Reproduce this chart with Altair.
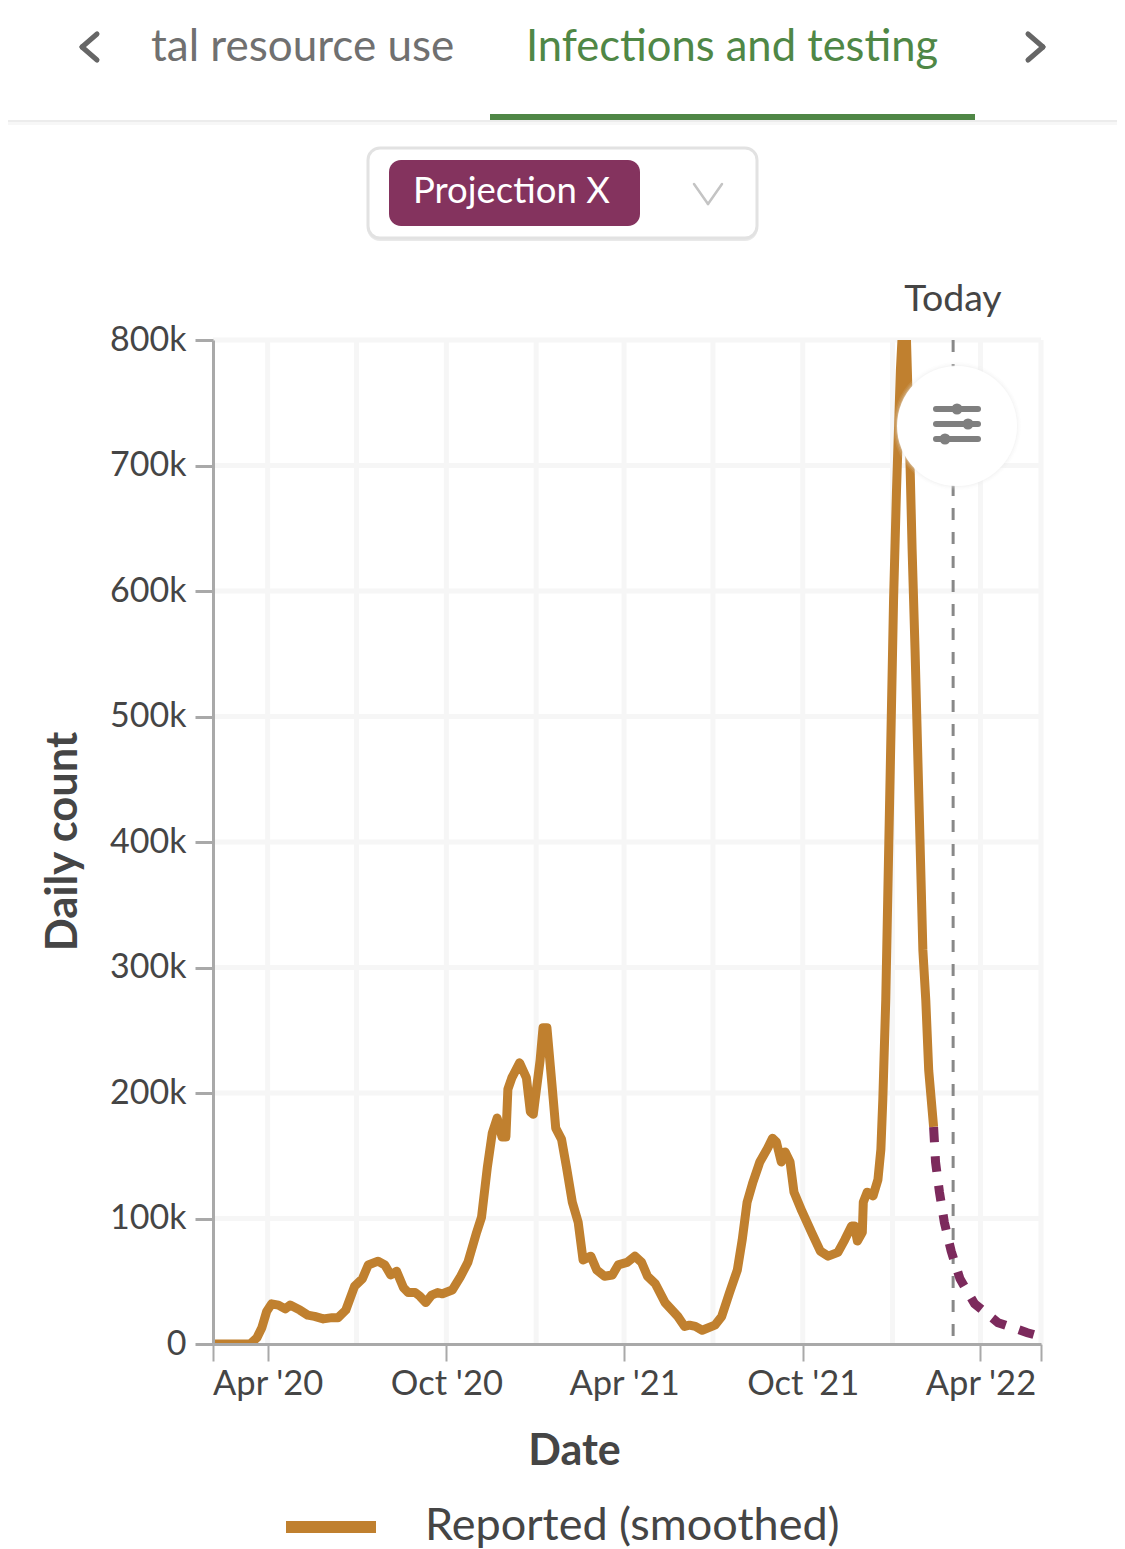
import altair as alt
import pandas as pd

START = "2020-02-05"
END = "2022-06-02"
TODAY = "2022-03-04"
FONT = "Lato"

reported_days = [0,38,45,50,55,60,67,74,79,89,97,104,113,122,128,136,145,153,159,169,176,182,188,195,200,207,212,218,224,230,235,245,253,261,270,275,281,286,291,296,300,302,306,314,321,325,328,335,338,342,347,351,357,362,368,374,379,387,393,401,409,415,424,432,439,445,453,463,476,483,488,494,501,514,521,529,537,542,547,553,560,568,573,577,582,586,591,595,603,613,622,630,640,647,654,657,660,665,666,670,676,681,684,686,689,691,695,697,700,702,704,706,710,712,714,716,719,723,727,730,733,738]
reported_k = [0,0,5,13,26,32,31,28,31,27,23,22,20,21,21,27,46,52,63,66,63,55,58,45,41,41,38,33,39,41,40,43,53,65,89,101,141,168,180,165,165,203,212,224,212,185,183,226,252,252,208,172,163,141,113,97,67,70,59,54,55,63,65,70,65,54,48,33,22,14,15,14,11,15,22,41,59,83,113,129,145,156,164,161,145,153,145,121,106,89,74,70,73,83,94,94,82,89,113,121,118,131,155,195,274,354,513,593,680,728,776,806,806,752,697,633,553,433,314,274,218,173]
projection_days = [738,740,744,749,756,765,780,804,834,843]
projection_k = [173,145,121,97,74,52,32,17,9,7]
y_ticks_k = [0,100,200,300,400,500,600,700,800]
x_grid = ["2020-04-01","2020-07-01","2020-10-01","2021-01-01","2021-04-01","2021-07-01","2021-10-01","2022-01-01","2022-04-01","2022-06-02"]
x_ticks = [(2020,2,5),(2020,4,1),(2020,10,1),(2021,4,1),(2021,10,1),(2022,4,1),(2022,6,2)]

ORANGE = "#c0802f"
PURPLE = "#7c2a5c"
CHIP = "#84335e"
GREEN = "#4f8746"
AXIS = "#a9a9a9"
TEXT = "#454545"

def iso(s):
    return s + "T00:00:00Z"

def series(days, ks):
    d = pd.to_datetime(START) + pd.to_timedelta(days, unit="D")
    return pd.DataFrame({"date": d.strftime("%Y-%m-%dT00:00:00Z"), "value": [k * 1000 for k in ks]})

x_scale = alt.Scale(type="utc", domain=[iso(START), iso(END)])
y_scale = alt.Scale(domain=[0, 800000], nice=False)

x_axis = alt.Axis(
    values=[alt.DateTime(year=y, month=m, date=d, utc=True) for y, m, d in x_ticks],
    labelExpr="utcmonth(datum.value)==3||utcmonth(datum.value)==9 ? utcFormat(datum.value,\"%b '%y\") : ''",
    title="Date", titleFont=FONT, titleFontSize=43, titleFontWeight="bold", titleColor=TEXT,
    titleX=361, titleY=107, titleBaseline="middle", titleAlign="center",
    labelFont=FONT, labelFontSize=34.5, labelColor=TEXT, labelPadding=6, labelOverlap=False,
    labelBound=False, labelFlush=False,
    tickSize=17, tickWidth=2, tickColor=AXIS, domainColor=AXIS, domainWidth=3, grid=False, zindex=1,
)
y_axis = alt.Axis(
    values=[k * 1000 for k in y_ticks_k],
    labelExpr="datum.value==0 ? '0' : (datum.value/1000)+'k'",
    title="Daily count", titleFont=FONT, titleFontSize=43.5, titleFontWeight="bold", titleColor=TEXT,
    titleX=-150, titleY=501, titleBaseline="middle", titleAlign="center", titleAngle=270,
    labelFont=FONT, labelFontSize=34, labelColor=TEXT, labelPadding=9, labelOverlap=False,
    labelBound=False, labelFlush=False,
    tickSize=18, tickWidth=3, tickColor=AXIS, domainColor=AXIS, domainWidth=3, grid=False, zindex=1,
)

one = pd.DataFrame({"a": [0]})
OX, OY = 213, 340   # page position of the plot's corner

def px(v): return alt.value(v - OX)
def py(v): return alt.value(v - OY)

def label(text, x, y, size, color, align="left", weight="normal"):
    return alt.Chart(one).mark_text(text=text, font=FONT, fontSize=size, color=color, align=align,
                                    baseline="middle", fontWeight=weight).encode(x=px(x), y=py(y))

def box(x1, x2, y1, y2, **kw):
    return alt.Chart(one).mark_rect(**kw).encode(x=px(x1), x2=px(x2), y=py(y1), y2=py(y2))

def stroke(x1, y1, x2, y2, color, width):
    return alt.Chart(one).mark_rule(color=color, strokeWidth=width, strokeCap="round").encode(
        x=px(x1), x2=px(x2), y=py(y1), y2=py(y2))

def dot(x, y, d, color, opacity=1):
    return alt.Chart(one).mark_circle(size=d * d, color=color, opacity=opacity).encode(x=px(x), y=py(y))

X = alt.X("date:T", scale=x_scale, axis=x_axis, title="Date")
Y = alt.Y("value:Q", scale=y_scale, axis=y_axis, title="Daily count")

grid_x = alt.Chart(pd.DataFrame({"date": [iso(g) for g in x_grid]})).mark_rule(
    color="#f6f6f6", strokeWidth=5).encode(x=X)
grid_y = alt.Chart(pd.DataFrame({"value": [k * 1000 for k in y_ticks_k[1:]]})).mark_rule(
    color="#f6f6f6", strokeWidth=5).encode(y=Y)
today = alt.Chart(pd.DataFrame({"date": [iso(TODAY)]})).mark_rule(
    color="#888888", strokeWidth=3, strokeDash=[12, 12]).encode(x=X)
reported = alt.Chart(series(reported_days, reported_k)).mark_line(
    color=ORANGE, strokeWidth=9, clip=True, strokeJoin="round").encode(x=X, y=Y)
projected = alt.Chart(series(projection_days, projection_k)).mark_line(
    color=PURPLE, strokeWidth=9, clip=True, strokeDash=[15.5, 14]).encode(x=X, y=Y)

layers = [grid_x, grid_y, today, reported, projected]

# floating settings button
for d, o in [(128, 0.10), (125, 0.15), (122, 0.25)]:
    layers.append(dot(957, 426, d, "#ececec", o))
layers.append(dot(957, 426, 120, "#ffffff"))
for y in (409, 424, 439):
    layers.append(stroke(936, y, 978, y, "#7f7f7f", 6))
for x, y in ((957, 409), (968, 424), (945, 439)):
    layers.append(dot(x, y, 11, "#7f7f7f"))

# tab bar
layers += [
    box(0, 1125, 120, 122, color="#ececec"),
    box(0, 1125, 122, 125, color="#f7f7f7"),
    box(490, 975, 114, 120, color=GREEN),
    stroke(97, 34, 82, 47, "#666666", 5),
    stroke(82, 47, 97, 60, "#666666", 5),
    stroke(1028, 34, 1043, 47, "#666666", 5),
    stroke(1043, 47, 1028, 60, "#666666", 5),
    label("tal resource use", 151, 48, 44, "#707070"),
    label("Infections and testing", 526, 48, 43.5, GREEN),
    # dropdown
    box(367, 758, 151, 241, color="#e9e9e9", cornerRadius=13),
    box(368, 757, 148, 238, color="#ffffff", stroke="#e2e2e2", strokeWidth=3, cornerRadius=12),
    box(389, 640, 160, 226, color=CHIP, cornerRadius=12),
    label("Projection X", 413, 192, 36.5, "#ffffff"),
    stroke(694, 184, 708, 204, "#c4c4c4", 2.5),
    stroke(708, 204, 722, 184, "#c4c4c4", 2.5),
    label("Today", 953, 300, 37.5, TEXT, align="center"),
    # legend
    box(286, 376, 1521, 1533, color=ORANGE),
    label("Reported (smoothed)", 425, 1526, 45, TEXT),
]

chart = alt.layer(*layers).resolve_scale(x="shared", y="shared").properties(
    width=828,
    height=1004,
    autosize=alt.AutoSizeParams(type="none"),
    padding={"left": 205, "top": 332, "right": 76, "bottom": 205},
    background="#ffffff",
).configure_view(stroke=None)

chart.save("out.html", embed_options={"renderer": "svg", "actions": False})
